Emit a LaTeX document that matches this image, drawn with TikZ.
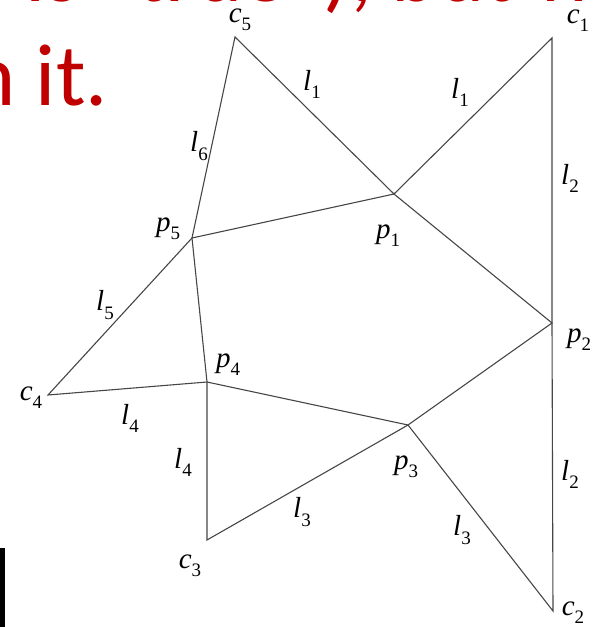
\documentclass[tikz,border=0pt]{standalone}
\usepackage{fontspec}
\usepackage{xcolor}
\usepackage{tikz}
\newfontfamily\slidefont{Carlito}
\newfontfamily\labfont{Liberation Serif}
\definecolor{slidered}{RGB}{192,0,0}
\definecolor{edgegray}{RGB}{70,70,70}
\newcommand{\vlab}[2]{{\labfont\itshape #1}\raisebox{-0.28em}{\labfont\fontsize{19}{19}\selectfont #2}}

\begin{document}
\begin{tikzpicture}[x=1pt, y=-1pt,
    edge/.style={draw=edgegray, line width=1.1pt},
    lab/.style={inner sep=0pt, font=\fontsize{29}{34}\selectfont},
    slidetext/.style={inner sep=0pt, text=slidered, font=\slidefont\fontsize{88}{96}\selectfont}]
    \useasboundingbox (0,0) rectangle (596,627);
    \clip (0,0) rectangle (596,627);
    % cut-off slide text behind the figure
    \node[slidetext, anchor=base east] (line1) at (640,1) {is “true”), but we};
    \node[slidetext, anchor=base east] (line2) at (108,105) {n it.};
    \fill[black] (0,548) rectangle (5,627);
    % vertices
    \coordinate (c1) at (552,38);
    \coordinate (c2) at (553,611);
    \coordinate (c3) at (207,540);
    \coordinate (c4) at (48,395);
    \coordinate (c5) at (235,37);
    \coordinate (p1) at (394,194);
    \coordinate (p2) at (552,323);
    \coordinate (p3) at (408,425);
    \coordinate (p4) at (207,382);
    \coordinate (p5) at (192,238);
    % edges
    \draw[edge] (c5) -- (p5) -- (c4) -- (p4) -- (c3) -- (p3) -- (c2) -- (p2) -- (c1) -- (p1) -- cycle;
    \draw[edge] (p1) -- (p5) -- (p4) -- (p3) -- (p2) -- (p1);
    % labels
    \node[lab] (lc5) at (240,20) {\vlab{c}{5}};
    \node[lab] (lc1) at (578,21) {\vlab{c}{1}};
    \node[lab] (lc4) at (31,398) {\vlab{c}{4}};
    \node[lab] (lc3) at (190,566) {\vlab{c}{3}};
    \node[lab] (lc2) at (573,613) {\vlab{c}{2}};
    \node[lab] (lp1) at (388,236) {\vlab{p}{1}};
    \node[lab] (lp2) at (579,340) {\vlab{p}{2}};
    \node[lab] (lp3) at (406,467) {\vlab{p}{3}};
    \node[lab] (lp4) at (228,365) {\vlab{p}{4}};
    \node[lab] (lp5) at (168,229) {\vlab{p}{5}};
    \node[lab] (ll1a) at (312,84) {\vlab{l}{1}};
    \node[lab] (ll1b) at (460,92) {\vlab{l}{1}};
    \node[lab] (ll2a) at (570,178) {\vlab{l}{2}};
    \node[lab] (ll2b) at (570,474) {\vlab{l}{2}};
    \node[lab] (ll3a) at (302,512) {\vlab{l}{3}};
    \node[lab] (ll3b) at (462,530) {\vlab{l}{3}};
    \node[lab] (ll4a) at (130,418) {\vlab{l}{4}};
    \node[lab] (ll4b) at (183,462) {\vlab{l}{4}};
    \node[lab] (ll5) at (105,305) {\vlab{l}{5}};
    \node[lab] (ll6) at (199,146) {\vlab{l}{6}};
\end{tikzpicture}
\end{document}
